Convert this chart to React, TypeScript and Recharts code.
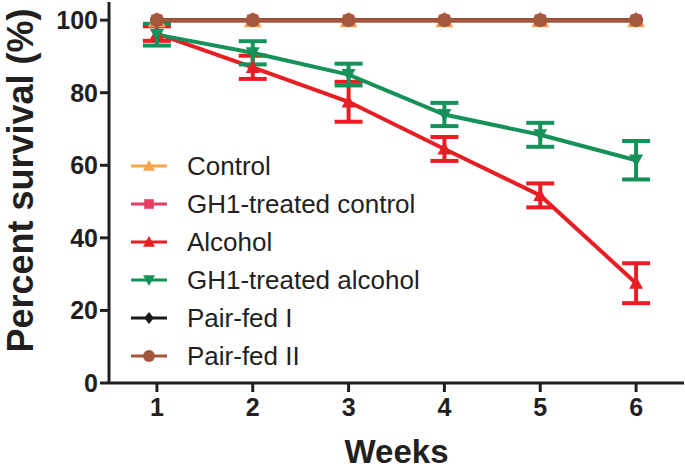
import { ErrorBar, Label, Line, LineChart, XAxis, YAxis } from "recharts"

const weeks = [1, 2, 3, 4, 5, 6]
const control = [100, 100, 100, 100, 100, 100]
const gh1Control = [100, 100, 100, 100, 100, 100]
const alcohol = [96.3, 87, 77.5, 64.5, 51.7, 27.5]
const alcoholErr = [2, 3.2, 5.5, 3.3, 3.3, 5.5]
const gh1Alcohol = [96, 91, 85, 74, 68.4, 61.4]
const gh1AlcoholErr = [3, 3.2, 3, 3.2, 3.3, 5.3]
const pairFed1 = [100, 100, 100, 100, 100, 100]
const pairFed2 = [100, 100, 100, 100, 100, 100]
const yTicks = [0, 20, 40, 60, 80, 100]

const data = weeks.map((week, i) => ({
  week,
  control: control[i],
  gh1Control: gh1Control[i],
  alcohol: alcohol[i],
  alcoholErr: alcoholErr[i],
  gh1Alcohol: gh1Alcohol[i],
  gh1AlcoholErr: gh1AlcoholErr[i],
  pairFed1: pairFed1[i],
  pairFed2: pairFed2[i],
}))

const INK = "#231f20"
const FONT = "'Liberation Sans', Arial, sans-serif"

type Shape = "triangle" | "square" | "triangleDown" | "diamond" | "circle"

const series: { key: string; name: string; color: string; shape: Shape; size: number }[] = [
  { key: "control", name: "Control", color: "#f5a54a", shape: "triangle", size: 9 },
  { key: "gh1Control", name: "GH1-treated control", color: "#e53d63", shape: "square", size: 7 },
  { key: "alcohol", name: "Alcohol", color: "#e81e25", shape: "triangle", size: 7 },
  { key: "gh1Alcohol", name: "GH1-treated alcohol", color: "#17915a", shape: "triangleDown", size: 7 },
  { key: "pairFed1", name: "Pair-fed I", color: "#1a1a1a", shape: "diamond", size: 7 },
  { key: "pairFed2", name: "Pair-fed II", color: "#a4573b", shape: "circle", size: 7 },
]

function Marker({ cx, cy, shape, color, r = 6 }: { cx: number; cy: number; shape: Shape; color: string; r?: number }) {
  if (cx == null || cy == null) return null
  switch (shape) {
    case "triangle":
      return <polygon points={`${cx},${cy - r} ${cx - r},${cy + r * 0.8} ${cx + r},${cy + r * 0.8}`} fill={color} />
    case "triangleDown":
      return <polygon points={`${cx},${cy + r} ${cx - r},${cy - r * 0.8} ${cx + r},${cy - r * 0.8}`} fill={color} />
    case "square":
      return <rect x={cx - r * 0.8} y={cy - r * 0.8} width={r * 1.6} height={r * 1.6} fill={color} />
    case "diamond":
      return <polygon points={`${cx},${cy - r} ${cx + r * 0.8},${cy} ${cx},${cy + r} ${cx - r * 0.8},${cy}`} fill={color} />
    default:
      return <circle cx={cx} cy={cy} r={r} fill={color} />
  }
}

// legend sits inside the plot, lower left, like the original figure
function LegendList() {
  return (
    <div
      style={{
        position: "absolute",
        left: 128,
        top: 147,
        fontFamily: FONT,
        fontSize: 26,
        color: INK,
        pointerEvents: "none",
      }}
    >
      {series.map((s) => (
        <div key={s.key} style={{ height: 38, display: "flex", alignItems: "center", whiteSpace: "nowrap" }}>
          <svg width={40} height={20} style={{ marginRight: 19 }}>
            <line x1={3} x2={39} y1={10} y2={10} stroke={s.color} strokeWidth={3} />
            <Marker cx={21} cy={10} shape={s.shape} color={s.color} r={6} />
          </svg>
          <span>{s.name}</span>
        </div>
      ))}
    </div>
  )
}

export default function App() {
  return (
    <div style={{ position: "absolute", left: 0, top: 0, width: 685, height: 469, background: "#fff" }}>
      <LineChart width={685} height={469} data={data} margin={{ top: 2, right: 1, bottom: 0, left: 0 }}>
        <XAxis
          dataKey="week"
          type="number"
          domain={[0.5, 6.5]}
          ticks={weeks}
          height={86}
          axisLine={{ stroke: INK, strokeWidth: 3 }}
          tickLine={{ stroke: INK, strokeWidth: 3 }}
          tickSize={9}
          tick={{ fill: INK, fontSize: 25, fontWeight: 700, fontFamily: FONT }}
          tickMargin={6}
        >
          <Label
            value="Weeks"
            position="insideBottom"
            offset={6}
            style={{ fill: INK, fontSize: 33, fontWeight: 700, fontFamily: FONT }}
          />
        </XAxis>
        <YAxis
          type="number"
          domain={[0, 105]}
          ticks={yTicks}
          width={109}
          axisLine={{ stroke: INK, strokeWidth: 3 }}
          tickLine={{ stroke: INK, strokeWidth: 3 }}
          tickSize={9}
          tick={{ fill: INK, fontSize: 25, fontWeight: 700, fontFamily: FONT }}
          tickMargin={2}
        >
          <Label
            value="Percent survival (%)"
            angle={-90}
            position="insideLeft"
            offset={20}
            dy={-12}
            style={{ fill: INK, fontSize: 36, fontWeight: 700, fontFamily: FONT, textAnchor: "middle" }}
          />
        </YAxis>
        {series.map((s) => (
          <Line
            key={s.key}
            dataKey={s.key}
            name={s.name}
            stroke={s.color}
            strokeWidth={4}
            isAnimationActive={false}
            dot={(p: any) => <Marker key={`${s.key}-${p.index}`} cx={p.cx} cy={p.cy} shape={s.shape} color={s.color} r={s.size} />}
            activeDot={false}
          >
            {s.key === "alcohol" && (
              <ErrorBar dataKey="alcoholErr" direction="y" width={14} strokeWidth={4} stroke={s.color} />
            )}
            {s.key === "gh1Alcohol" && (
              <ErrorBar dataKey="gh1AlcoholErr" direction="y" width={14} strokeWidth={4} stroke={s.color} />
            )}
          </Line>
        ))}
      </LineChart>
      <LegendList />
    </div>
  )
}
